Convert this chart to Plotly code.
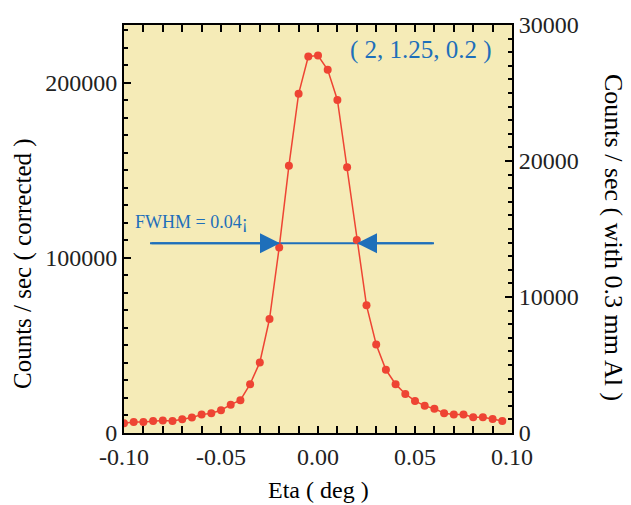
import plotly.graph_objects as go

# ---- data ----
eta = [-0.100, -0.095, -0.090, -0.085, -0.080, -0.075, -0.070, -0.065, -0.060, -0.055,
       -0.050, -0.045, -0.040, -0.035, -0.030, -0.025, -0.020, -0.015, -0.010, -0.005,
       0.000, 0.005, 0.010, 0.015, 0.020, 0.025, 0.030, 0.035, 0.040, 0.045,
       0.050, 0.055, 0.060, 0.065, 0.070, 0.075, 0.080, 0.085, 0.090, 0.095]
counts = [5600, 6300, 6300, 6900, 7100, 6900, 7800, 8800, 10500, 11300,
          13000, 16200, 18700, 27900, 40300, 65100, 106000, 152600, 193700, 215000,
          215600, 207400, 190200, 151700, 110200, 72900, 50600, 36100, 27900, 22300,
          18300, 15500, 13900, 11300, 10500, 10500, 9000, 9000, 8000, 6900]

x_ticks = [-0.10, -0.05, 0.00, 0.05, 0.10]
x_tick_text = ["-0.10", "-0.05", "0.00", "0.05", "0.10"]
y_ticks = [0, 100000, 200000]
y2_ticks = [0, 10000, 20000, 30000]

fwhm_y = 108300
fwhm_line_x = [-0.0866, 0.0598]
fwhm_tips = [-0.0196, 0.0201]
fwhm_text = "FWHM = 0.04¡"
hkl_text = "( 2, 1.25, 0.2 )"

RED = "#EE4433"
BLUE = "#1E6FBA"
BG = "#F5EBB7"
FONT = "Liberation Serif, Times New Roman, serif"

# page body has an 8px default margin: size the figure to fit the window
OFF = 8
W, H = 631 - OFF, 505 - OFF
L, R, T, B = 124 - OFF, 119, 25 - OFF, 72

fig = go.Figure()
fig.add_trace(go.Scatter(x=fwhm_line_x, y=[fwhm_y, fwhm_y], mode="lines",
                         line=dict(color=BLUE, width=2), showlegend=False, hoverinfo="skip"))
fig.add_trace(go.Scatter(x=eta, y=counts, mode="lines+markers",
                         line=dict(color=RED, width=1.5),
                         marker=dict(color=RED, size=8), showlegend=False))
fig.add_trace(go.Scatter(x=[None], y=[None], yaxis="y2", showlegend=False))

for tip, tail in zip(fwhm_tips, fwhm_line_x):
    fig.add_annotation(x=tip, y=fwhm_y, ax=tail, ay=fwhm_y,
                       xref="x", yref="y", axref="x", ayref="y", text="", showarrow=True,
                       arrowhead=2, arrowsize=2.0, arrowwidth=2, arrowcolor=BLUE)
fig.add_annotation(x=-0.0955, y=120500, xref="x", yref="y", text=fwhm_text,
                   showarrow=False, xanchor="left", yanchor="middle",
                   font=dict(family=FONT, size=18, color=BLUE))
fig.add_annotation(x=0.0905, y=219000, xref="x", yref="y", text=hkl_text,
                   showarrow=False, xanchor="right", yanchor="middle",
                   font=dict(family=FONT, size=25, color=BLUE))

pw, ph = W - L - R, H - T - B


def px(xp, yp):
    # reference-window pixel -> paper fraction
    return ((xp - OFF) - L) / pw, ((H - (yp - OFF)) - B) / ph


for txt, (xp, yp), ang, size in [
    ("Counts / sec ( corrected )", (23, 263), -90, 25),
    ("Eta ( deg )", (318, 490), 0, 24),
    ("Counts / sec ( with 0.3 mm Al )", (613, 237), 90, 26),
]:
    xf, yf = px(xp, yp)
    fig.add_annotation(x=xf, y=yf, xref="paper", yref="paper", text=txt, showarrow=False,
                       textangle=ang, xanchor="center", yanchor="middle",
                       font=dict(family=FONT, size=size, color="black"))

axis_common = dict(showline=True, linewidth=2, linecolor="black", ticks="inside",
                   ticklen=7, tickwidth=1.5, tickcolor="black", showgrid=False, zeroline=False,
                   tickfont=dict(family=FONT, size=24, color="#222"))
minor_common = dict(ticks="inside", ticklen=4, tickcolor="black", tickwidth=1.5, tick0=0)

fig.update_layout(
    width=W, height=H, margin=dict(l=L, r=R, t=T, b=B, autoexpand=False),
    paper_bgcolor="white", plot_bgcolor=BG,
    xaxis=dict(range=[-0.1, 0.1], tickvals=x_ticks, ticktext=x_tick_text, mirror="allticks",
               ticklabelstandoff=1,
               minor=dict(dtick=0.01, **minor_common), **axis_common),
    yaxis=dict(range=[0, 233000], tickvals=y_ticks, ticktext=[str(v) for v in y_ticks],
               minor=dict(dtick=10000, **minor_common), **axis_common),
    yaxis2=dict(range=[0, 30000], tickvals=y2_ticks, ticktext=[str(v) for v in y2_ticks],
                overlaying="y", side="right",
                minor=dict(dtick=1000, **minor_common), **axis_common),
)

fig.write_html("out.html")
